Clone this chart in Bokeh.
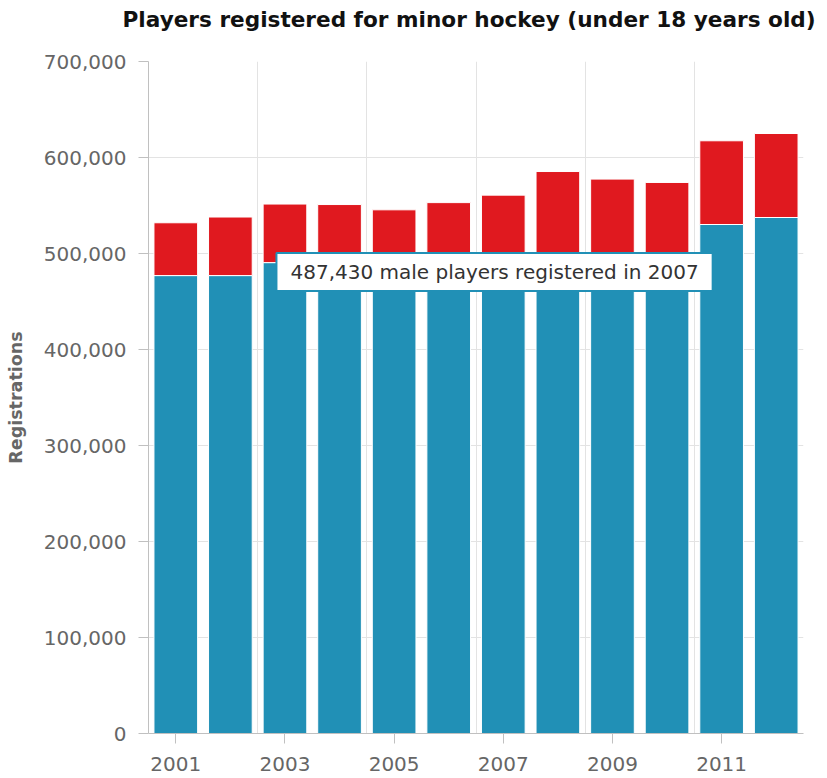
from bokeh.plotting import figure
from bokeh.models import ColumnDataSource, FixedTicker, NumeralTickFormatter, Label, Range1d, Title
from bokeh.embed import file_html
from bokeh.resources import INLINE

years = [2001, 2002, 2003, 2004, 2005, 2006, 2007, 2008, 2009, 2010, 2011, 2012]
male = [477000, 477000, 490500, 489000, 482000, 485000, 487430, 498000, 491000, 488000, 530200, 537500]
female = [55000, 61000, 61000, 62000, 63500, 68000, 73370, 87400, 86500, 86000, 87200, 87500]
y_ticks = [0, 100000, 200000, 300000, 400000, 500000, 600000, 700000]
x_ticks = [2001, 2003, 2005, 2007, 2009, 2011]
title_text = "Players registered for minor hockey (under 18 years old)"
tooltip_year_index = 6

BLUE = "#2190b6"
RED = "#e0191f"
FONT = "DejaVu Sans"

src = ColumnDataSource(dict(year=years, male=male, female=female))

p = figure(width=827, height=776, output_backend="svg", toolbar_location=None,
           x_range=Range1d(years[0] - 0.5, years[-1] + 0.5),
           y_range=Range1d(y_ticks[0], y_ticks[-1]),
           min_border_left=148, min_border_right=24, min_border_top=61, min_border_bottom=43)

p.vbar_stack(["male", "female"], x="year", width=0.8, source=src,
             color=[BLUE, RED], line_color="white", line_width=1)

# spacer panel between the frame and the title
p.add_layout(Title(text=" ", text_font_size="1px", standoff=27), "above")

p.title.text = title_text
p.title.align = "left"
p.title.offset = -26
p.title.text_font = FONT
p.title.text_font_size = "21.6px"
p.title.text_font_style = "bold"
p.title.text_color = "#111111"
p.title.standoff = 0

p.outline_line_color = None
p.background_fill_color = "white"
p.border_fill_color = "white"

p.yaxis.ticker = FixedTicker(ticks=y_ticks)
p.yaxis.formatter = NumeralTickFormatter(format="0,0")
p.yaxis.axis_label = "Registrations"
p.yaxis.axis_label_text_font = FONT
p.yaxis.axis_label_text_font_size = "17.5px"
p.yaxis.axis_label_text_font_style = "bold"
p.yaxis.axis_label_text_color = "#666666"
p.yaxis.axis_label_standoff = 15
p.yaxis.major_label_text_font = FONT
p.yaxis.major_label_text_font_size = "20px"
p.yaxis.major_label_text_color = "#666666"
p.yaxis.major_label_standoff = 12
p.yaxis.major_tick_out = 10
p.yaxis.major_tick_in = 0
p.yaxis.minor_tick_out = 0
p.yaxis.minor_tick_in = 0
p.yaxis.axis_line_color = "#c0c0c0"
p.yaxis.major_tick_line_color = "#c0c0c0"

p.xaxis.ticker = FixedTicker(ticks=x_ticks)
p.xaxis.major_label_text_font = FONT
p.xaxis.major_label_text_font_size = "20px"
p.xaxis.major_label_text_color = "#666666"
p.xaxis.major_label_standoff = 13
p.xaxis.major_tick_out = 10
p.xaxis.major_tick_in = 0
p.xaxis.minor_tick_out = 0
p.xaxis.minor_tick_in = 0
p.xaxis.axis_line_color = "#c0c0c0"
p.xaxis.major_tick_line_color = "#c0c0c0"

p.ygrid.ticker = FixedTicker(ticks=y_ticks)
p.ygrid.grid_line_color = "#e3e3e3"
p.xgrid.ticker = FixedTicker(ticks=[y + 1.5 for y in x_ticks])
p.xgrid.grid_line_color = "#e3e3e3"

tip = Label(x=years[tooltip_year_index] - 0.16, y=male[tooltip_year_index] - 6700,
            text=f"{male[tooltip_year_index]:,} male players registered in {years[tooltip_year_index]}",
            text_align="center", text_baseline="middle",
            text_font=FONT, text_font_size="20px", text_color="#333333",
            background_fill_color="white", border_line_color=BLUE, border_line_width=2,
            padding=dict(top=7, right=14, bottom=7, left=14))
p.add_layout(tip)

open("out.html", "w").write(file_html(p, INLINE))
